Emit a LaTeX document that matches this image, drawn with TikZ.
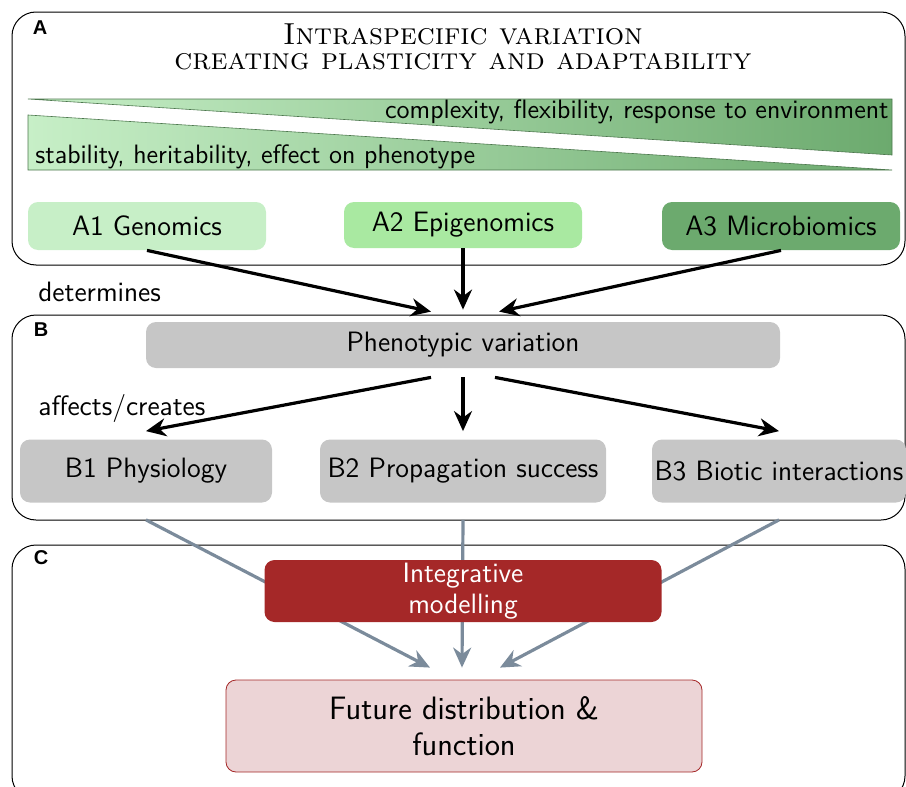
\documentclass[tikz,border=0pt]{standalone}
\usepackage{fontspec}
\newfontfamily\panelfont{Liberation Sans}
\usetikzlibrary{arrows.meta,positioning}
\definecolor{greenlight}{HTML}{C7EFC7}
\definecolor{greenmid}{HTML}{A9E9A1}
\definecolor{greendark}{HTML}{6CAA6E}
\definecolor{boxgray}{HTML}{C6C6C6}
\definecolor{modelred}{HTML}{A52828}
\definecolor{futurepink}{HTML}{ECD4D6}
\definecolor{linkgray}{HTML}{7B8B9B}
\tikzset{
  panel/.style={
    draw=black,
    line width=0.5pt,
    rounded corners=12pt
    },
  panelletter/.style={
    font=\panelfont\bfseries\fontsize{10}{11}\selectfont
    },
  titleline/.style={
    anchor=base,
    inner sep=0pt,
    font=\rmfamily\scshape\fontsize{15.2}{16}\selectfont
    },
  item/.style={
    rectangle,
    rounded corners=5pt,
    minimum width=119pt,
    minimum height=24pt,
    align=center,
    inner sep=0pt,
    font=\sffamily\fontsize{14}{16}\selectfont
    },
  graybox/.style={
    item,
    fill=boxgray
    },
  wedge/.style={
    draw=greendark!70!black,
    line width=0.3pt
    },
  blackarrow/.style={line width=1.6pt,-{Stealth[length=10pt,width=9pt]}},
  grayarrow/.style={linkgray,line width=1.6pt,-{Stealth[length=10pt,width=9pt]}},
  note/.style={anchor=west,inner sep=0pt,font=\sffamily\fontsize{14}{16}\selectfont},
  wedgenote/.style={note,font=\sffamily\fontsize{13.3}{16}\selectfont},
}

\begin{document}
\begin{tikzpicture}[x=0.5pt,y=-0.5pt]
\useasboundingbox (0,0) rectangle (906,787);

% panels
\draw[panel] (12,12) rectangle (905,265);
\draw[panel] (12,315) rectangle (905,520);
\draw[panel] (12,545) rectangle (905,800);
\node[panelletter] (letterA) at (40,28) {A};
\node[panelletter] (letterB) at (41,330) {B};
\node[panelletter] (letterC) at (41,558) {C};

% panel A
\node (title) [titleline] at (463,44) {Intraspecific variation};
\node (subtitle) [titleline] at (463,69) {creating plasticity and adaptability};
\shade[wedge,left color=greenlight,right color=greendark] (28,99) -- (892,99) -- (892,155) -- cycle;
\shade[wedge,left color=greenlight,right color=greendark] (28,115) -- (892,170) -- (28,170) -- cycle;
\node (complexity) [wedgenote,anchor=east] at (889,112) {complexity, flexibility, response to environment};
\node (stability) [wedgenote] at (35,157) {stability, heritability, effect on phenotype};

\node (genomics) [item,fill=greenlight] at (147,226) {A1 Genomics};
\node (epigenomics) [item,fill=greenmid,minimum height=23pt] at (463,225) {A2 Epigenomics};
\node (microbiomics) [item,fill=greendark] at (781,226) {A3 Microbiomics};

\node (determines) [note] at (38,292) {determines};

% panel B
\node (pheno) [graybox,minimum width=317pt,minimum height=23pt] at (463,345) {Phenotypic variation};
\node (physiology) [graybox,minimum width=126pt,minimum height=31.5pt] at (146,471) {B1 Physiology};
\node (propagation) [graybox,minimum width=143pt,minimum height=31.5pt] at (463,471) {B2 Propagation success};
\node (biotic) [graybox,minimum width=127pt,minimum height=31.5pt] at (779,471) {B3 Biotic interactions};
\node (affects) [note] at (38,408) {affects/creates};

\draw[blackarrow] (genomics.south) -- ([xshift=-16pt,yshift=5pt]pheno.north);
\draw[blackarrow] (epigenomics.south) -- ([yshift=6pt]pheno.north);
\draw[blackarrow] (microbiomics.south) -- ([xshift=18pt,yshift=5pt]pheno.north);

\draw[blackarrow] ([xshift=-16pt,yshift=-4.5pt]pheno.south) -- ([yshift=4pt]physiology.north);
\draw[blackarrow] ([yshift=-4.5pt]pheno.south) -- ([yshift=4pt]propagation.north);
\draw[blackarrow] ([xshift=16pt,yshift=-4.5pt]pheno.south) -- ([yshift=4pt]biotic.north);

% panel C
\node (future) [item,fill=futurepink,draw=modelred,line width=0.4pt,minimum width=238pt,minimum height=46pt,
  font=\sffamily\fontsize{16.2}{18}\selectfont] at (464,726) {Future distribution \&\\function};

\draw[grayarrow] ([yshift=-8.5pt]physiology.south) -- ([xshift=-17pt,yshift=6pt]future.north);
\draw[grayarrow] ([yshift=-8.5pt]propagation.south) -- ([xshift=-1pt,yshift=6pt]future.north);
\draw[grayarrow] ([yshift=-8.5pt]biotic.south) -- ([xshift=18pt,yshift=6pt]future.north);

\node (model) [item,fill=modelred,text=white,minimum width=198.5pt,minimum height=31pt,
  font=\sffamily\fontsize{14}{15.5}\selectfont] at (463,591) {Integrative\\modelling};
\end{tikzpicture}
\end{document}
